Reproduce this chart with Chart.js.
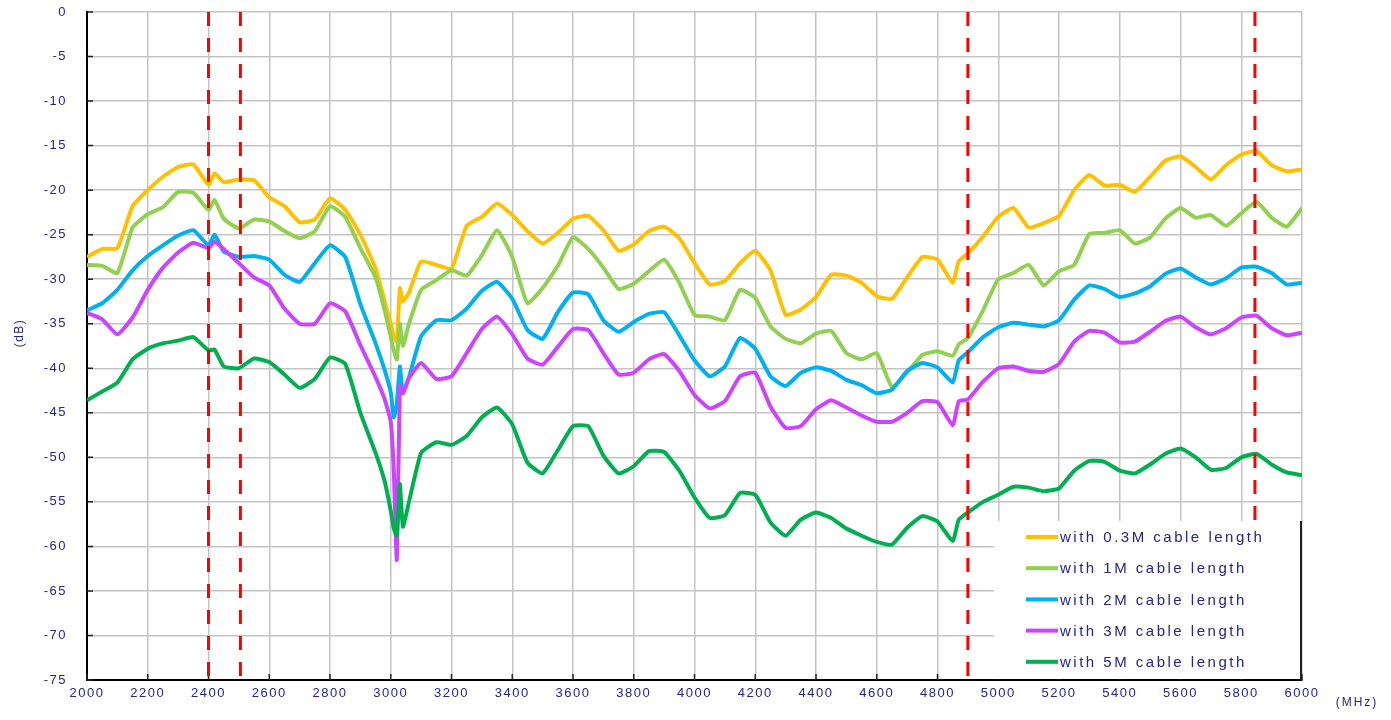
<!DOCTYPE html>
<html>
<head>
<meta charset="utf-8">
<title>Cable length comparison</title>
<script src="https://cdn.jsdelivr.net/npm/chart.js@4.4.1/dist/chart.umd.min.js"></script>
<style>
  html, body { margin: 0; padding: 0; background: #fff; }
  #wrap { width: 1391px; height: 720px; }
</style>
</head>
<body>
<div id="wrap"><canvas id="chart" width="1391" height="720"></canvas></div>
<script>
/* ---- data ---- */

const freqMHz = [
  2000, 2050, 2100, 2150, 2200, 2250, 2300, 2350,
  2400, 2420, 2450, 2500, 2550, 2600, 2650, 2700, 2750, 2800, 2850, 2900, 2950,
  2980, 3000, 3010, 3020, 3030, 3040, 3060,
  3100, 3150, 3200, 3250, 3300, 3350, 3400, 3450, 3500, 3550,
  3600, 3650, 3700, 3750, 3800, 3850, 3900, 3950,
  4000, 4050, 4100, 4150, 4200, 4250, 4300, 4350, 4400, 4450,
  4500, 4550, 4600, 4650, 4700, 4750, 4800, 4850, 4870, 4900, 4950,
  5000, 5050, 5100, 5150, 5200, 5250, 5300, 5350, 5400, 5450,
  5500, 5550, 5600, 5650, 5700, 5750, 5800, 5850, 5900, 5950, 6000
];

const cable03m = [
  -27.5, -26.6, -26.5, -21.8, -20, -18.5, -17.4, -17.1,
  -19.4, -18.1, -19.1, -18.8, -18.9, -20.8, -21.8, -23.6, -23.3, -20.9, -22.2, -25, -28.8,
  -32.5, -35, -36.5, -37, -31, -32.5, -31.5,
  -28, -28.4, -28.8, -24, -23, -21.5, -22.8, -24.6, -26, -24.8,
  -23.2, -22.9, -24.5, -26.8, -26.1, -24.6, -24.1, -25.4,
  -28.2, -30.6, -30.2, -28.2, -26.8, -29, -34, -33.4, -32, -29.5,
  -29.6, -30.4, -31.9, -32.2, -29.8, -27.5, -27.8, -30.4, -28, -27.1, -25.2,
  -23, -22, -24.2, -23.7, -22.9, -20, -18.3, -19.5, -19.4, -20.2,
  -18.5, -16.7, -16.2, -17.4, -18.8, -17.2, -16, -15.6, -17.2, -17.9, -17.7
];

const cable1m = [
  -28.4, -28.5, -29.3, -24.2, -22.7, -21.9, -20.2, -20.3,
  -22.2, -21.1, -23.2, -24.3, -23.3, -23.5, -24.6, -25.4, -24.6, -21.8, -23, -26.5, -29.8,
  -33.5, -36.5, -38, -39, -35, -37.5, -35,
  -31.2, -30.1, -29, -29.6, -27.3, -24.5, -27.5, -32.7, -31, -28.5,
  -25.3, -26.6, -28.7, -31.1, -30.5, -29.1, -27.8, -30.4,
  -34, -34.2, -34.6, -31.2, -32.1, -35.3, -36.7, -37.2, -36.1, -35.8,
  -38.3, -39, -38.3, -42.1, -40.5, -38.5, -38.1, -38.6, -37.3, -36.6, -33.5,
  -30, -29.3, -28.4, -30.7, -29.1, -28.4, -24.9, -24.8, -24.5, -26,
  -25.3, -23.2, -22, -23.1, -22.8, -24, -22.6, -21.3, -23.1, -24.1, -22
];

const cable2m = [
  -33.5, -32.7, -31.2, -29, -27.4, -26.2, -25.1, -24.5,
  -26.2, -25, -26.9, -27.5, -27.4, -27.8, -29.5, -30.3, -28.2, -26.2, -27.5, -32.8, -37.2,
  -40.2, -42.7, -45.5, -44, -39.8, -42.8, -41,
  -36.4, -34.6, -34.6, -33.3, -31.3, -30.3, -32.2, -35.7, -36.7, -33.7,
  -31.5, -31.7, -34.6, -35.9, -34.8, -33.9, -33.7, -36.3,
  -39.1, -40.9, -39.8, -36.6, -37.8, -40.9, -42, -40.5, -39.9, -40.3,
  -41.3, -41.9, -42.8, -42.4, -40.3, -39.4, -39.9, -41.6, -39.1, -38.2, -36.5,
  -35.4, -34.9, -35.1, -35.3, -34.6, -32.3, -30.7, -31.1, -32, -31.6,
  -30.8, -29.4, -28.8, -29.8, -30.6, -29.9, -28.7, -28.6, -29.3, -30.6, -30.4
];

const cable3m = [
  -33.8, -34.5, -36.2, -34.3, -31.2, -28.7, -27, -25.9,
  -26.5, -25.8, -26.6, -28.2, -29.8, -30.7, -33.3, -35, -35, -32.7, -33.6, -37.4, -41,
  -43.5, -46, -51.5, -61.5, -42, -42.8, -41.1,
  -39.4, -41.2, -40.9, -38.3, -35.6, -34.2, -36.2, -38.9, -39.6, -37.6,
  -35.6, -35.7, -38.3, -40.7, -40.5, -39, -38.4, -40.3,
  -43, -44.5, -43.7, -40.9, -40.5, -44.3, -46.7, -46.5, -44.6, -43.6,
  -44.4, -45.3, -46, -46, -45, -43.7, -43.8, -46.4, -43.7, -43.5, -41.5,
  -40, -39.8, -40.3, -40.4, -39.5, -37, -35.8, -36, -37.1, -37,
  -35.9, -34.7, -34.2, -35.4, -36.2, -35.5, -34.3, -34.1, -35.5, -36.3, -36
];

const cable5m = [
  -43.6, -42.6, -41.6, -39, -37.8, -37.2, -36.9, -36.5,
  -38, -37.9, -39.8, -40, -38.9, -39.3, -40.7, -42.2, -41.2, -38.8, -39.5, -45, -49.5,
  -52.7, -56, -58, -58.8, -53, -57.8, -55,
  -49.5, -48.3, -48.6, -47.6, -45.5, -44.4, -46.3, -50.6, -51.8, -49.2,
  -46.5, -46.5, -49.8, -51.8, -51, -49.3, -49.4, -51.5,
  -54.5, -56.8, -56.5, -54, -54.2, -57.3, -58.8, -57, -56.2, -56.8,
  -58, -58.8, -59.5, -59.8, -57.9, -56.6, -57.2, -59.4, -57, -56.2, -55,
  -54.2, -53.3, -53.4, -53.8, -53.5, -51.5, -50.4, -50.5, -51.5, -51.8,
  -50.8, -49.6, -49, -50, -51.4, -51.2, -50, -49.6, -50.8, -51.7, -52
];

const seriesLabels = [
  'with 0.3M cable length',
  'with 1M cable length',
  'with 2M cable length',
  'with 3M cable length',
  'with 5M cable length'
];
const seriesValues = [cable03m, cable1m, cable2m, cable3m, cable5m];
const seriesColors = ['#ffc000', '#92d050', '#00b0f0', '#cc44ff', '#00b050'];

// band edges marked with red dashed lines
const markerMHz = [2400, 2505, 4900, 5845];

const TEXT = '#25258a';
const GRID = '#c4c4c4';

/* ---- overlay: inner ticks, band markers, legend, unit labels ---- */

const overlay = {
  id: 'overlay',
  beforeDraw(chart) {
    chart.ctx.letterSpacing = '1.5px';
  },
  beforeDatasetsDraw(chart) {
    const { ctx, chartArea: a, scales } = chart;
    ctx.save();
    ctx.strokeStyle = '#222';
    ctx.lineWidth = 1.5;
    ctx.beginPath();
    scales.y.ticks.forEach(t => {
      const y = scales.y.getPixelForValue(t.value);
      ctx.moveTo(a.left, y);
      ctx.lineTo(a.left + 6, y);
    });
    scales.x.ticks.forEach(t => {
      const x = scales.x.getPixelForValue(t.value);
      ctx.moveTo(x, a.bottom);
      ctx.lineTo(x, a.bottom - 6);
    });
    ctx.stroke();
    ctx.restore();
  },
  afterDatasetsDraw(chart) {
    const { ctx, chartArea: a, scales } = chart;

    // red dashed band markers
    ctx.save();
    ctx.strokeStyle = '#ff0000';
    ctx.lineWidth = 3;
    ctx.setLineDash([14, 12]);
    markerMHz.forEach(f => {
      const x = scales.x.getPixelForValue(f);
      ctx.beginPath();
      ctx.moveTo(x, a.top);
      ctx.lineTo(x, a.bottom);
      ctx.stroke();
    });
    ctx.restore();

    // legend box in the lower right corner
    const bx = 994, by = 521;
    ctx.save();
    ctx.fillStyle = '#fff';
    ctx.fillRect(bx, by, a.right - bx, a.bottom - 1 - by);
    ctx.strokeStyle = '#222';
    ctx.lineWidth = 2;
    ctx.beginPath();
    ctx.moveTo(a.right - 1, by);
    ctx.lineTo(a.right - 1, a.bottom);
    ctx.stroke();

    ctx.font = '15px "Liberation Sans", Arial, sans-serif';
    ctx.letterSpacing = '2.5px';
    ctx.textBaseline = 'middle';
    ctx.textAlign = 'left';
    seriesLabels.forEach((label, i) => {
      const y = 537 + i * 31.2;
      ctx.strokeStyle = seriesColors[i];
      ctx.lineWidth = 4;
      ctx.beginPath();
      ctx.moveTo(1026, y);
      ctx.lineTo(1058, y);
      ctx.stroke();
      ctx.fillStyle = TEXT;
      ctx.fillText(label, 1060, y + 1);
    });
    ctx.restore();
  },
  afterDraw(chart) {
    const { ctx } = chart;
    ctx.save();
    ctx.fillStyle = TEXT;
    ctx.textAlign = 'center';
    ctx.textBaseline = 'middle';
    ctx.font = '12px "Liberation Sans", Arial, sans-serif';
    ctx.letterSpacing = '2px';
    ctx.fillText('(MHz)', 1357, 703);

    ctx.translate(20, 333);
    ctx.rotate(-Math.PI / 2);
    ctx.font = '12px "Liberation Sans", Arial, sans-serif';
    ctx.letterSpacing = '1.5px';
    ctx.fillText('(dB)', 0, 0);
    ctx.restore();
  }
};

Chart.defaults.font.family = '"Liberation Sans", Arial, sans-serif';
Chart.defaults.color = TEXT;

new Chart(document.getElementById('chart'), {
  type: 'line',
  data: {
    datasets: seriesValues.map((vals, i) => ({
      label: seriesLabels[i],
      data: freqMHz.map((f, k) => ({ x: f, y: vals[k] })),
      borderColor: seriesColors[i],
      backgroundColor: seriesColors[i],
      borderWidth: 4,
      pointRadius: 0,
      tension: 0.15,
      fill: false,
      order: seriesValues.length - i
    }))
  },
  options: {
    responsive: false,
    animation: false,
    devicePixelRatio: 1,
    layout: { padding: { top: 12, right: 89, left: 0, bottom: 0 } },
    plugins: {
      legend: { display: false },
      tooltip: { enabled: false }
    },
    scales: {
      x: {
        type: 'linear',
        min: 2000,
        max: 6000,
        afterFit(s) {
          s.height = 40;
          s.paddingLeft = 0;
          s.paddingRight = 0;
        },
        ticks: {
          stepSize: 200,
          padding: 6,
          autoSkip: false,
          maxRotation: 0,
          color: TEXT,
          font: { size: 13 },
          callback: v => String(v)
        },
        grid: { color: GRID, lineWidth: 1.5, drawTicks: false },
        border: { color: '#000', width: 2 }
      },
      y: {
        min: -75,
        max: 0,
        afterFit(s) {
          s.width = 87;
          s.paddingTop = 0;
          s.paddingBottom = 0;
        },
        ticks: {
          stepSize: 5,
          padding: 20,
          color: TEXT,
          font: { size: 13 },
          callback: v => String(v)
        },
        grid: { color: GRID, lineWidth: 1.5, drawTicks: false },
        border: { color: '#000', width: 2 }
      }
    }
  },
  plugins: [overlay]
});
</script>
</body>
</html>
